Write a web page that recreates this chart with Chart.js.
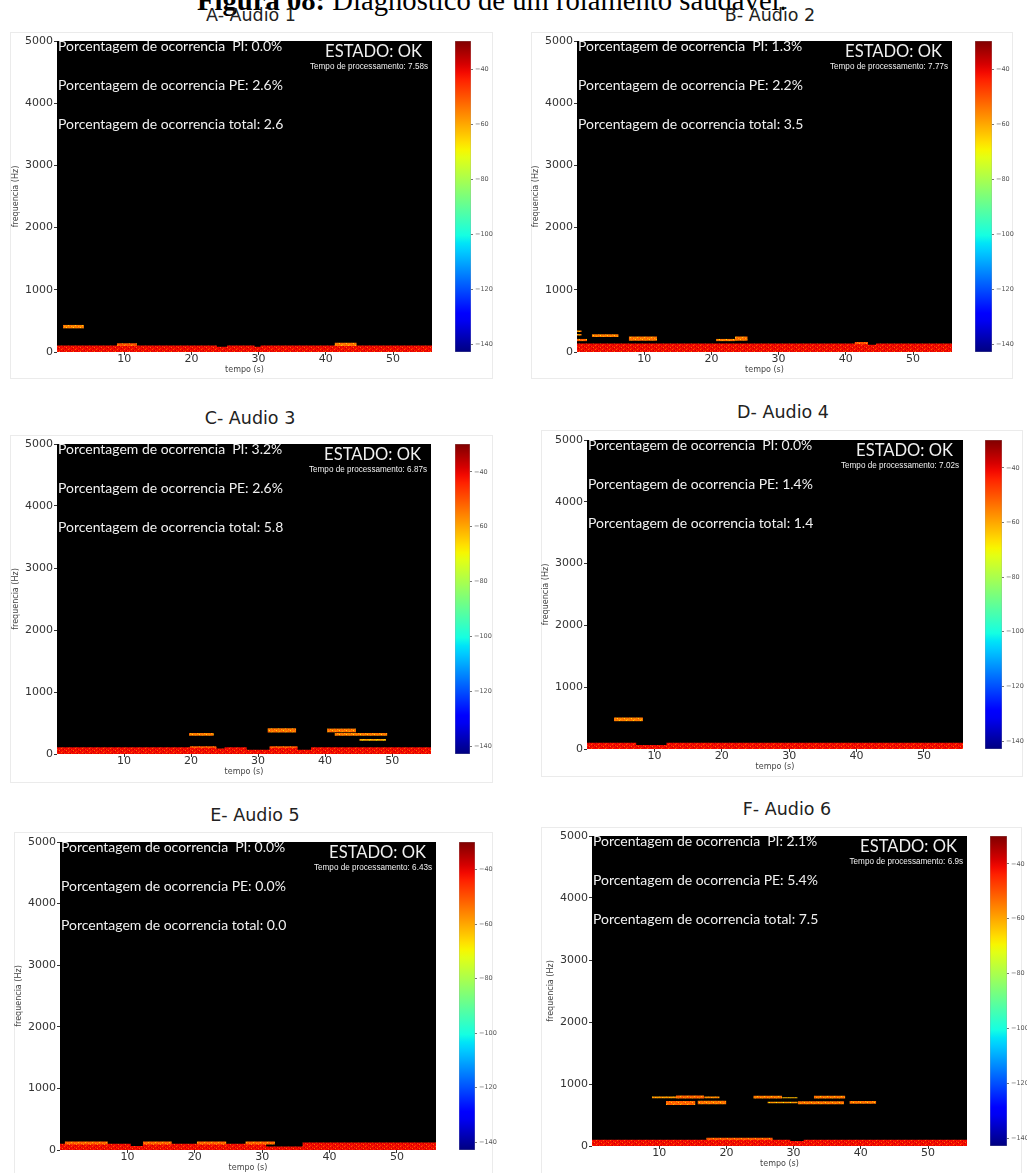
<!DOCTYPE html>
<html><head><meta charset="utf-8">
<script src="https://cdn.jsdelivr.net/npm/chart.js@4.4.1/dist/chart.umd.min.js"></script>
<style>
html,body{margin:0;padding:0;background:#fff;}
#page{position:relative;width:1027px;height:1173px;overflow:hidden;background:#fff;}
.box{position:absolute;border:1px solid #ebebeb;box-sizing:border-box;}
.ttl{position:absolute;font-family:"DejaVu Sans";font-size:17.5px;color:#222;line-height:1;white-space:nowrap;transform:translateX(-50%);}
canvas{position:absolute;}
#fig{position:absolute;left:197px;top:-14px;font-family:"Liberation Serif";font-size:29px;line-height:1;color:#000;white-space:nowrap;}
</style></head>
<body><div id="page">
<div id="fig"><b>Figura 08:</b> Diagnóstico de um rolamento saudável.</div>
</div>
<script>
// ---------- data ----------
const TIME_TICKS = [10, 20, 30, 40, 50];
const TIME_RANGE = [0, 55.8];
const FREQ_TICKS = [0, 1000, 2000, 3000, 4000, 5000];
const FREQ_RANGE = [0, 5000];
const DB_TICKS = [-40, -60, -80, -100, -120, -140];
const DB_RANGE = [-142.9, -29.8];

const PANEL_TITLES = ['A- Audio 1', 'B- Audio 2', 'C- Audio 3', 'D- Audio 4', 'E- Audio 5', 'F- Audio 6'];
const PCT_PI    = ['0.0', '1.3', '3.2', '0.0', '0.0', '2.1'];
const PCT_PE    = ['2.6', '2.2', '2.6', '1.4', '0.0', '5.4'];
const PCT_TOTAL = ['2.6', '3.5', '5.8', '1.4', '0.0', '7.5'];
const PROC_TIME = ['7.58', '7.77', '6.87', '7.02', '6.43', '6.9'];
const STATUS_TEXT = 'ESTADO: OK';

// low-frequency noise band: [time (s), top frequency (Hz)], step changes
const BAND_DB = -41;
const BAND_A = [[0,105],[23.8,85],[25.3,105],[29.4,85],[30.3,105],[55.8,105]];
const BAND_B = [[0,135],[43.3,115],[44.5,135],[55.8,135]];
const BAND_C = [[0,110],[23.8,90],[25.0,110],[28.3,70],[31.7,110],[35.9,70],[37.9,110],[55.8,110]];
const BAND_D = [[0,100],[7.3,65],[11.8,100],[55.8,100]];
const BAND_E = [[0,100],[10.5,65],[12.3,100],[30.6,55],[36.0,120],[55.8,120]];
const BAND_F = [[0,100],[29.5,80],[31.5,100],[55.8,100]];

// tonal stripes: [t start, t end, f low, f high, level dB]
const STRIPES_A = [[0.9,4.0,380,435,-55],[8.9,11.9,95,140,-50],[41.3,44.6,95,150,-54]];
const STRIPES_B = [[0,0.7,320,345,-56],[0,0.7,265,290,-56],[0,1.5,175,210,-52],[2.2,6.2,240,285,-55],
                   [7.7,11.9,180,250,-54],[20.7,23.5,175,210,-55],[23.5,25.4,180,250,-54],[41.3,43.3,125,160,-50]];
const STRIPES_C = [[19.7,23.4,295,340,-55],[31.4,35.7,345,415,-54],[40.3,44.6,350,410,-54],[41.4,49.3,295,340,-55],
                   [45.1,49.1,215,240,-60],[19.8,23.8,95,125,-50],[31.7,35.9,95,125,-50]];
const STRIPES_D = [[4.0,8.3,450,510,-55]];
const STRIPES_E = [[0.7,7.1,90,140,-52],[12.3,16.6,90,140,-52],[20.3,24.7,90,140,-52],[27.5,31.9,90,140,-52]];
const STRIPES_F = [[8.9,12.5,770,800,-58],[12.5,16.7,765,815,-52],[16.7,19.0,770,800,-56],[11.0,15.4,660,725,-52],
                   [15.7,20.0,675,730,-54],[24.0,28.3,765,810,-54],[28.3,30.6,770,785,-62],[26.1,30.6,690,715,-58],
                   [30.6,37.5,675,720,-54],[33.0,37.7,765,810,-54],[38.3,42.3,680,725,-54],[17.0,26.9,95,135,-50]];

const BANDS = [BAND_A, BAND_B, BAND_C, BAND_D, BAND_E, BAND_F];
const STRIPES = [STRIPES_A, STRIPES_B, STRIPES_C, STRIPES_D, STRIPES_E, STRIPES_F];

// ---------- layout (pixels) ----------
const PLOTS = [[57,41,432,352],[577,41,952,352],[57,444,431,754],[587,440,963,749],[60,842,436,1150],[592,836,967,1146]];
const CBARS = [[455,471],[975,992],[455,470],[985,1002],[459,475],[990,1007]];
const BOXES = [[10,32,493,379],[531,32,1013,379],[10,435,493,783],[541,430,1023,777],[14,832,493,1180],[541,827,1022,1180]];
const TITLE_POS = [[251,22],[770,22],[250,425],[783,419],[255,822],[787,816]];

// ---------- helpers ----------
function interp(v, pts){
  for (let k=1;k<pts.length;k++){
    if (v<=pts[k][0]){ const [x0,y0]=pts[k-1],[x1,y1]=pts[k]; return y0+(y1-y0)*(v-x0)/(x1-x0); }
  }
  return pts[pts.length-1][1];
}
function jet(v){
  v=Math.max(0,Math.min(1,v));
  const r=interp(v,[[0,0],[0.35,0],[0.66,1],[0.89,1],[1,0.5]]);
  const g=interp(v,[[0,0],[0.125,0],[0.375,1],[0.64,1],[0.91,0],[1,0]]);
  const b=interp(v,[[0,0.5],[0.11,1],[0.34,1],[0.65,0],[1,0]]);
  return `rgb(${Math.round(r*255)},${Math.round(g*255)},${Math.round(b*255)})`;
}
function dbColor(db){ return jet((db-DB_RANGE[0])/(DB_RANGE[1]-DB_RANGE[0])); }
const DOTS=[[1,0,-10],[4,1,-6],[6,2,-12],[2,3,-5],[5,3,4],[0,2,3],[3,1,5]];
const tileCache={};
function tile(db){
  if (tileCache[db]) return tileCache[db];
  const c=document.createElement('canvas'); c.width=7; c.height=4;
  const x=c.getContext('2d'); x.fillStyle=dbColor(db); x.fillRect(0,0,7,4);
  DOTS.forEach(([px,py,d])=>{ x.fillStyle=dbColor(db+d); x.fillRect(px,py,1,1); });
  tileCache[db]=c; return c;
}
function patternFor(db){ return (c)=> c.chart.ctx.createPattern(tile(db),'repeat'); }

Chart.defaults.font.family='"DejaVu Sans"';
const page=document.getElementById('page');

function addCanvas(l,t,w,h){
  const cv=document.createElement('canvas');
  cv.width=w; cv.height=h; cv.style.left=l+'px'; cv.style.top=t+'px';
  cv.style.width=w+'px'; cv.style.height=h+'px';
  page.appendChild(cv); return cv;
}

let FIT=null;
function getFit(ctx){
  if (FIT) return FIT;
  ctx.save();
  ctx.font='100px Lato'; const w1=ctx.measureText('Porcentagem de ocorrencia PE: 2.6%').width;
  const w2=ctx.measureText('ESTADO: OK').width;
  ctx.font='9px "Liberation Sans"'; const w3=ctx.measureText('Tempo de processamento: 7.58s').width;
  ctx.restore();
  FIT={pct:100*225/w1, est:100*97/w2, tsx:118/w3};
  return FIT;
}

const bgPlugin={id:'bg', beforeDatasetsDraw(chart){
  const {ctx,chartArea:a}=chart; ctx.save(); ctx.fillStyle='#000'; ctx.fillRect(a.left,a.top,a.right-a.left,a.bottom-a.top); ctx.restore();
}};
const textPlugin={id:'annot', afterDatasetsDraw(chart,args,opts){
  const i=opts.idx; if (i===undefined) return;
  const {ctx,chartArea:a}=chart; const f=getFit(ctx);
  ctx.save();
  ctx.beginPath(); ctx.rect(a.left,a.top,a.right-a.left,a.bottom-a.top); ctx.clip();
  ctx.fillStyle='#f0f0f0'; ctx.textBaseline='alphabetic'; ctx.textAlign='left';
  ctx.font=f.pct.toFixed(2)+'px Lato';
  ctx.fillText('Porcentagem de ocorrencia  PI: '+PCT_PI[i]+'%', a.left+1, a.top+10);
  ctx.fillText('Porcentagem de ocorrencia PE: '+PCT_PE[i]+'%', a.left+1, a.top+49);
  ctx.fillText('Porcentagem de ocorrencia total: '+PCT_TOTAL[i], a.left+1, a.top+88);
  ctx.textAlign='right';
  ctx.font=f.est.toFixed(2)+'px Lato';
  ctx.fillText(STATUS_TEXT, a.right-10, a.top+16);
  ctx.font='9px "Liberation Sans"';
  ctx.translate(a.right-4, a.top+28); ctx.scale(f.tsx,1);
  ctx.fillText('Tempo de processamento: '+PROC_TIME[i]+'s', 0, 0);
  ctx.restore();
}};

const Y_W=46, X_H=23, PAD_T=8, PAD_R=8;

for (let i=0;i<6;i++){
  const [bl,bt,br,bb]=BOXES[i];
  const box=document.createElement('div'); box.className='box';
  Object.assign(box.style,{left:bl+'px',top:bt+'px',width:(br-bl)+'px',height:(bb-bt)+'px'});
  page.appendChild(box);

  const [tx,ty]=TITLE_POS[i];
  const tt=document.createElement('div'); tt.className='ttl'; tt.textContent=PANEL_TITLES[i];
  tt.style.left=tx+'px'; tt.style.top=(ty-0.846*17.5)+'px'; page.appendChild(tt);

  const [pl,pt,pr,pb]=PLOTS[i];
  const cv=addCanvas(pl-Y_W, pt-PAD_T, Y_W+(pr-pl)+PAD_R, PAD_T+(pb-pt)+X_H);

  const datasets=[];
  STRIPES[i].forEach(([t0,t1,f0,f1,db])=>{
    datasets.push({data:[{x:t0,y:f1},{x:t1,y:f1}], fill:{value:f0}, backgroundColor:patternFor(db),
      borderColor:'rgba(0,0,0,0)', borderWidth:0, pointRadius:0, order:1});
  });
  datasets.push({data:BANDS[i].map(([t,f])=>({x:t,y:f})), stepped:true, fill:'origin',
    backgroundColor:patternFor(BAND_DB), borderColor:'rgba(0,0,0,0)', borderWidth:0, pointRadius:0, order:10});

  new Chart(cv,{type:'line', data:{datasets},
    options:{responsive:false, animation:false, devicePixelRatio:1,
      layout:{padding:{top:PAD_T,right:PAD_R,left:0,bottom:0}},
      plugins:{legend:{display:false}, tooltip:{enabled:false}, annot:{idx:i}},
      scales:{
        x:{type:'linear', min:TIME_RANGE[0], max:TIME_RANGE[1],
          afterBuildTicks:s=>{s.ticks=TIME_TICKS.map(v=>({value:v}));},
          afterFit:s=>{s.height=X_H;},
          grid:{drawOnChartArea:false, tickLength:3, color:'#333'}, border:{display:false},
          ticks:{color:'#333', font:{size:11}, padding:-2, maxRotation:0, autoSkip:false, callback:v=>String(v)},
          title:{display:true, text:'tempo (s)', color:'#444', font:{size:8}, padding:{top:0,bottom:0}}},
        y:{type:'linear', min:FREQ_RANGE[0], max:FREQ_RANGE[1],
          afterBuildTicks:s=>{s.ticks=FREQ_TICKS.map(v=>({value:v}));},
          afterFit:s=>{s.width=Y_W;},
          grid:{drawOnChartArea:false, tickLength:3, color:'#333'}, border:{display:false},
          ticks:{color:'#333', font:{size:11}, padding:1, autoSkip:false, callback:v=>String(v)},
          title:{display:true, text:'frequencia (Hz)', color:'#444', font:{size:8}, padding:{top:0,bottom:0}}}
      }},
    plugins:[bgPlugin,textPlugin]});

  // colorbar
  const [cl,cr]=CBARS[i];
  const CB_W=24, CB_P=8;
  const cv2=addCanvas(cl, pt-CB_P, (cr-cl)+CB_W, (pb-pt)+2*CB_P);
  new Chart(cv2,{type:'bar',
    data:{labels:['dB'], datasets:[{data:[DB_RANGE.slice()],
      backgroundColor:(c)=>{const a=c.chart.chartArea; if(!a) return '#000';
        const g=c.chart.ctx.createLinearGradient(0,a.bottom,0,a.top);
        for(let k=0;k<=40;k++){ g.addColorStop(k/40, jet(k/40)); } return g;},
      borderColor:'#999', borderWidth:0.6, borderSkipped:false, barPercentage:1, categoryPercentage:1}]},
    options:{responsive:false, animation:false, devicePixelRatio:1,
      layout:{padding:{top:CB_P,bottom:CB_P,left:0,right:0}},
      plugins:{legend:{display:false}, tooltip:{enabled:false}},
      scales:{
        x:{display:false},
        y:{position:'right', min:DB_RANGE[0], max:DB_RANGE[1],
          afterBuildTicks:s=>{s.ticks=DB_TICKS.map(v=>({value:v}));},
          afterFit:s=>{s.width=CB_W;},
          grid:{drawOnChartArea:false, tickLength:2, color:'#777'}, border:{display:false},
          ticks:{color:'#555', font:{size:6.5}, padding:2, autoSkip:false, callback:v=>'\u2212'+Math.abs(v)}}
      }}});
}

// fit figure title width
const fig=document.getElementById('fig');
const fw=fig.offsetWidth; const fs=29*590/fw;
fig.style.fontSize=fs.toFixed(2)+'px';
fig.style.top=(10-0.8375*fs).toFixed(1)+'px';
</script>
</body></html>
